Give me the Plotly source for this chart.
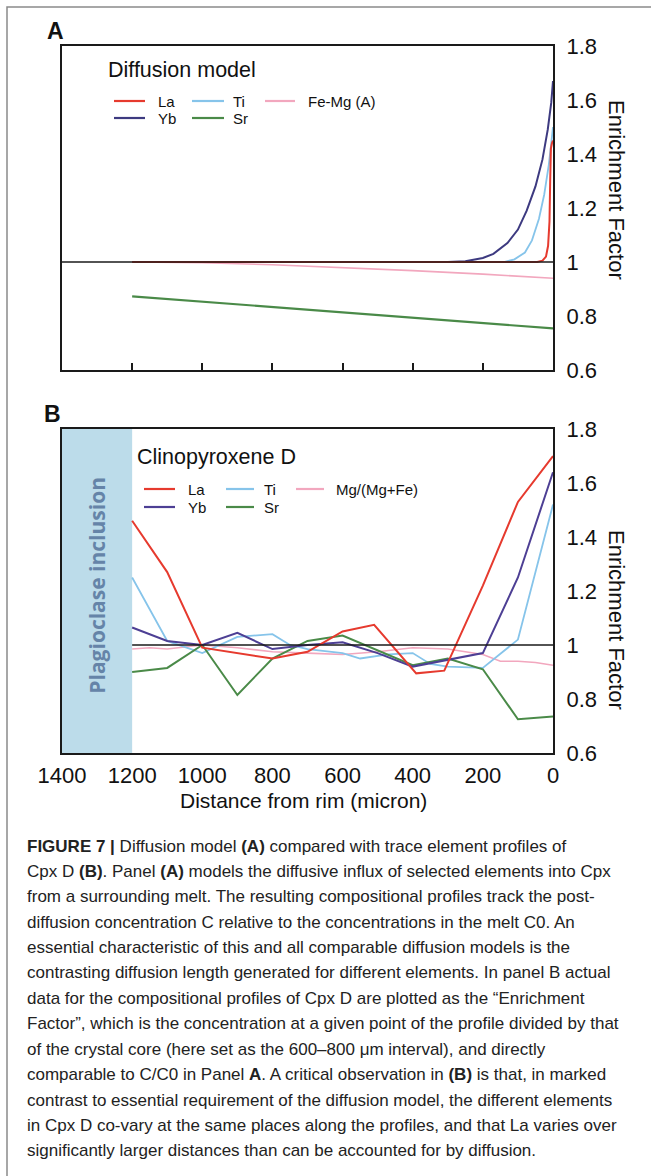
import plotly.graph_objects as go

W, H = 651, 1176

# ---------------- data ----------------
A_la_x = [1200, 45, 30, 20, 14, 10, 8, 6, 3, 0]
A_la_y = [1.0, 1.0, 1.005, 1.02, 1.06, 1.15, 1.3, 1.42, 1.44, 1.45]
A_yb_x = [1200, 300, 250, 200, 170, 130, 100, 75, 50, 30, 15, 5, 0]
A_yb_y = [1.0, 1.0, 1.003, 1.015, 1.03, 1.07, 1.12, 1.19, 1.28, 1.38, 1.49, 1.59, 1.67]
A_ti_x = [1200, 140, 110, 80, 60, 40, 25, 12, 5, 0]
A_ti_y = [1.0, 1.0, 1.01, 1.035, 1.08, 1.16, 1.25, 1.36, 1.44, 1.5]
A_femg_x = [1200, 1000, 800, 600, 400, 200, 0]
A_femg_y = [1.0, 0.997, 0.99, 0.98, 0.968, 0.955, 0.94]
A_sr_x = [1200, 0]
A_sr_y = [0.873, 0.754]

B_la_x = [1200, 1100, 1000, 900, 800, 700, 600, 510, 390, 310, 200, 100, 0]
B_la_y = [1.46, 1.27, 0.99, 0.97, 0.95, 0.975, 1.05, 1.075, 0.895, 0.905, 1.22, 1.53, 1.70]
B_yb_x = [1200, 1100, 1000, 900, 800, 700, 600, 500, 400, 300, 200, 100, 0]
B_yb_y = [1.065, 1.015, 1.0, 1.045, 0.985, 1.0, 1.01, 0.97, 0.92, 0.945, 0.97, 1.25, 1.64]
B_ti_x = [1200, 1100, 1000, 900, 800, 750, 700, 600, 550, 470, 400, 350, 300, 200, 100, 0]
B_ti_y = [1.25, 1.015, 0.97, 1.03, 1.04, 1.0, 0.985, 0.97, 0.95, 0.965, 0.97, 0.93, 0.92, 0.915, 1.02, 1.52]
B_sr_x = [1200, 1100, 1000, 900, 800, 700, 600, 500, 400, 300, 200, 100, 0]
B_sr_y = [0.90, 0.915, 1.0, 0.815, 0.95, 1.015, 1.035, 0.98, 0.925, 0.95, 0.91, 0.725, 0.735]
B_mg_x = [1200, 1150, 1100, 1000, 900, 800, 700, 600, 500, 400, 300, 250, 200, 150, 100, 50, 0]
B_mg_y = [0.985, 0.99, 0.985, 1.0, 0.99, 0.975, 0.97, 0.965, 0.975, 0.99, 0.985, 0.975, 0.965, 0.94, 0.94, 0.935, 0.925]

y_ticks = [0.6, 0.8, 1.0, 1.2, 1.4, 1.6, 1.8]
y_ticktext = ["0.6", "0.8", "1", "1.2", "1.4", "1.6", "1.8"]
x_ticks = [1400, 1200, 1000, 800, 600, 400, 200, 0]
x_ticktext = ["1400", "1200", "1000", "800", "600", "400", "200", "0"]

RED, BLUE, PINK, GREEN = "#e63a2e", "#86c4ea", "#f2a7be", "#4a8a48"
YB_A, YB_B = "#3d3a80", "#4d3f94"
legA = [("La", RED), ("Ti", BLUE), ("Fe-Mg (A)", PINK), ("Yb", YB_A), ("Sr", GREEN)]
legB = [("La", RED), ("Ti", BLUE), ("Mg/(Mg+Fe)", PINK), ("Yb", YB_B), ("Sr", GREEN)]

FONT = "Liberation Sans, Arial, sans-serif"


def px(x):
    return x / W


def py(y):
    return 1 - y / H


fig = go.Figure()


def add(x, y, color, xa, ya, width=2.0):
    fig.add_trace(go.Scatter(x=x, y=y, mode="lines", line=dict(color=color, width=width),
                             xaxis=xa, yaxis=ya, showlegend=False, hoverinfo="skip"))


add(A_femg_x, A_femg_y, PINK, "x", "y", 1.6)
add(A_sr_x, A_sr_y, GREEN, "x", "y", 2.2)
add(A_yb_x, A_yb_y, YB_A, "x", "y", 2.0)
add(A_ti_x, A_ti_y, BLUE, "x", "y", 1.8)
add(A_la_x, A_la_y, RED, "x", "y", 2.0)

add(B_mg_x, B_mg_y, PINK, "x2", "y2", 1.6)
add(B_ti_x, B_ti_y, BLUE, "x2", "y2", 1.8)
add(B_sr_x, B_sr_y, GREEN, "x2", "y2", 2.0)
add(B_yb_x, B_yb_y, YB_B, "x2", "y2", 2.0)
add(B_la_x, B_la_y, RED, "x2", "y2", 2.0)

xdom = [px(62), px(553)]
axis_common = dict(showline=True, mirror=True, linecolor="#1a1a1a", linewidth=2,
                   showgrid=False, zeroline=False, automargin=False)
tf = dict(size=22, family=FONT, color="#111")

fig.update_layout(
    width=W, height=H, margin=dict(l=0, r=0, t=0, b=0, pad=0, autoexpand=False),
    showlegend=False,
    paper_bgcolor="white", plot_bgcolor="white",
    font=dict(family=FONT, color="#111"),
    xaxis=dict(domain=xdom, range=[1400, 0], anchor="y", tickvals=x_ticks[1:-1],
               showticklabels=False, ticks="inside", ticklen=7, tickwidth=2,
               tickcolor="#1a1a1a", **axis_common),
    yaxis=dict(domain=[py(370), py(46)], range=[0.6, 1.8], anchor="x", side="right",
               tickvals=y_ticks, ticktext=y_ticktext, ticks="", ticklabelstandoff=7,
               tickfont=tf, **axis_common),
    xaxis2=dict(domain=xdom, range=[1400, 0], anchor="y2", tickvals=x_ticks,
                ticktext=x_ticktext, ticks="", ticklabelstandoff=2,
                tickfont=tf, **axis_common),
    yaxis2=dict(domain=[py(753), py(429)], range=[0.6, 1.8], anchor="x2", side="right",
                tickvals=y_ticks, ticktext=y_ticktext, ticks="", ticklabelstandoff=7,
                tickfont=tf, **axis_common),
)

shapes = []
# outer frame (left and top edges visible)
shapes.append(dict(type="rect", xref="paper", yref="paper", x0=px(7), x1=px(660),
                   y0=py(1190), y1=py(7), line=dict(color="#8a8a8a", width=1.5)))
# plagioclase inclusion band
shapes.append(dict(type="rect", xref="x2", yref="y2", x0=1400, x1=1200, y0=0.6, y1=1.8,
                   fillcolor="#bcdcea", line=dict(width=0), layer="below"))
# reference lines at 1
shapes.append(dict(type="line", xref="x", yref="y", x0=1400, x1=0, y0=1, y1=1,
                   line=dict(color="#1a1a1a", width=1.4), layer="above"))
shapes.append(dict(type="line", xref="x2", yref="y2", x0=1200, x1=0, y0=1, y1=1,
                   line=dict(color="#1a1a1a", width=1.4), layer="above"))

annotations = []


def text(x, y, s, size, color="#111", xanchor="left", angle=0, family=FONT):
    annotations.append(dict(xref="paper", yref="paper", x=px(x), y=py(y), text=s,
                            showarrow=False, xanchor=xanchor, yanchor="middle",
                            textangle=angle,
                            font=dict(size=size, color=color, family=family)))


def legend(entries, header, hx, hy, r1, r2, cols):
    text(hx, hy, header, 21.5)
    pos = [(0, r1), (1, r1), (2, r1), (0, r2), (1, r2)]
    for (lab, col), (c, ry) in zip(entries, pos):
        lx0, lx1, tx = cols[c]
        shapes.append(dict(type="line", xref="paper", yref="paper", x0=px(lx0), x1=px(lx1),
                           y0=py(ry), y1=py(ry), line=dict(color=col, width=2.2)))
        text(tx, ry, lab, 15)


legend(legA, "Diffusion model", 106, 70, 101, 118,
       [(114, 145, 156), (192, 224, 231), (265, 295, 306)])
legend(legB, "Clinopyroxene D", 135, 457, 489, 507,
       [(144, 175, 186), (226, 254, 262), (296, 324, 334)])

text(55, 31, "<b>A</b>", 23, xanchor="center")
text(52, 414, "<b>B</b>", 23, xanchor="center")

text(617, 190, "Enrichment Factor", 22, xanchor="center", angle=90)
text(617, 620, "Enrichment Factor", 22, xanchor="center", angle=90)
text(303, 800, "Distance from rim (micron)", 21, xanchor="center")

annotations.append(dict(xref="x2", yref="y2", x=1300, y=1.22, text="<b>Plagioclase inclusion</b>",
                        showarrow=False, textangle=-90, xanchor="center", yanchor="middle",
                        font=dict(size=21, color="#6584a8", family="Open Sans, sans-serif")))

caption = [
    "<b>FIGURE 7 |</b> Diffusion model <b>(A)</b> compared with trace element profiles of",
    "Cpx D <b>(B)</b>. Panel <b>(A)</b> models the diffusive influx of selected elements into Cpx",
    "from a surrounding melt. The resulting compositional profiles track the post-",
    "diffusion concentration C relative to the concentrations in the melt C0. An",
    "essential characteristic of this and all comparable diffusion models is the",
    "contrasting diffusion length generated for different elements. In panel B actual",
    "data for the compositional profiles of Cpx D are plotted as the \u201cEnrichment",
    "Factor\u201d, which is the concentration at a given point of the profile divided by that",
    "of the crystal core (here set as the 600\u2013800 \u03bcm interval), and directly",
    "comparable to C/C0 in Panel <b>A</b>. A critical observation in <b>(B)</b> is that, in marked",
    "contrast to essential requirement of the diffusion model, the different elements",
    "in Cpx D co-vary at the same places along the profiles, and that La varies over",
    "significantly larger distances than can be accounted for by diffusion.",
]
for i, line in enumerate(caption):
    text(25, 846 + i * 25.4, line, 17, color="#222")

fig.update_layout(shapes=shapes, annotations=annotations)
fig.write_html("out.html")
